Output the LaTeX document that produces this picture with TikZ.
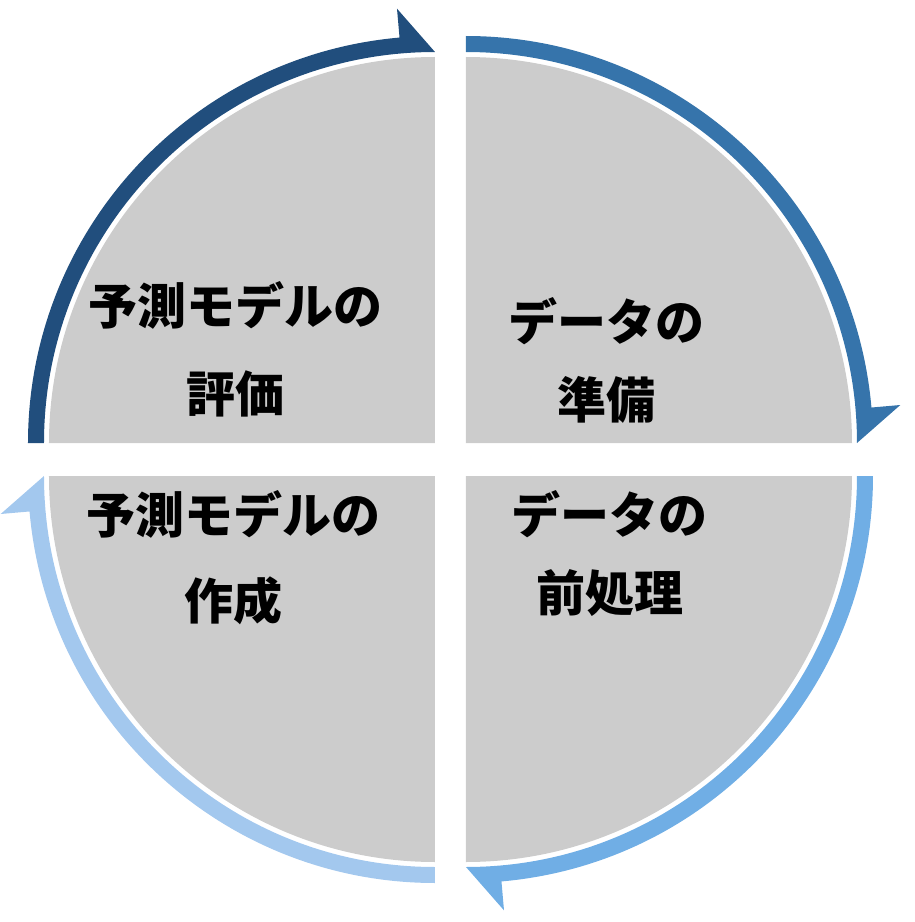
\documentclass[tikz,border=0pt]{standalone}
\usepackage{fontspec}
\usepackage{xcolor}
\usepackage{tikz}
\newfontfamily\jpfont{Noto Sans CJK JP}

\definecolor{pieGray}{RGB}{204,204,204}
\definecolor{arcNavy}{RGB}{33,78,125}
\definecolor{arcBlue}{RGB}{54,116,171}
\definecolor{arcSky}{RGB}{112,174,229}
\definecolor{arcPale}{RGB}{163,200,238}

\tikzset{
	quarter/.style={fill=pieGray},
	label/.style={inner sep=0pt,align=center,font=\jpfont\bfseries\fontsize{49}{78}\selectfont}
}

\begin{document}
\begin{tikzpicture}[x=1pt,y=1pt]
		\useasboundingbox (-450.5,-462.5) rectangle (463.5,459.5);

		% upper left
		\begin{scope}[shift={(-15.5,16.5)}]
			\fill[quarter] (0,0) -- (180:386) arc[start angle=180,end angle=90,radius=386] -- cycle;
			\fill[arcNavy] (180:407) arc[start angle=180,end angle=95,radius=407] -- (95:436) -- (90:391) arc[start angle=90,end angle=180,radius=391] -- cycle;
		\end{scope}

		% upper right
		\begin{scope}[shift={(15.5,16.5)}]
			\fill[quarter] (0,0) -- (90:386) arc[start angle=90,end angle=0,radius=386] -- cycle;
			\fill[arcBlue] (90:407) arc[start angle=90,end angle=5,radius=407] -- (5:436) -- (0:391) arc[start angle=0,end angle=90,radius=391] -- cycle;
		\end{scope}

		% lower right
		\begin{scope}[shift={(15.5,-16.5)}]
			\fill[quarter] (0,0) -- (0:386) arc[start angle=0,end angle=-90,radius=386] -- cycle;
			\fill[arcSky] (0:407) arc[start angle=0,end angle=-85,radius=407] -- (-85:436) -- (-90:391) arc[start angle=-90,end angle=0,radius=391] -- cycle;
		\end{scope}

		% lower left
		\begin{scope}[shift={(-15.5,-16.5)}]
			\fill[quarter] (0,0) -- (270:386) arc[start angle=270,end angle=180,radius=386] -- cycle;
			\fill[arcPale] (270:407) arc[start angle=270,end angle=185,radius=407] -- (185:436) -- (180:391) arc[start angle=180,end angle=270,radius=391] -- cycle;
		\end{scope}

		\node[label,font=\jpfont\bfseries\fontsize{49}{88}\selectfont] (evaluate) at (-214.5,110) {予測モデルの\\評価};
		\node[label] (prepare) at (156.5,99.5) {データの\\準備};
		\node[label] (preprocess) at (159.5,-94.5) {データの\\前処理};
		\node[label,font=\jpfont\bfseries\fontsize{49}{86}\selectfont] (build) at (-216.5,-98) {予測モデルの\\作成};
	\end{tikzpicture}
\end{document}
